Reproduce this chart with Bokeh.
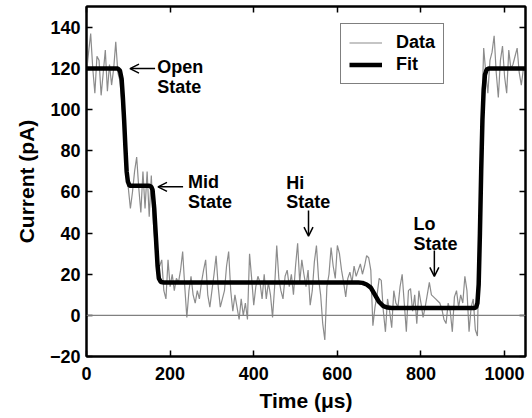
import numpy as np
from bokeh.plotting import figure
from bokeh.models import (ColumnDataSource, Span, Arrow, OpenHead, Legend, LegendItem,
                          LinearAxis, FixedTicker, Range1d, Label)
from bokeh.embed import file_html
from bokeh.resources import INLINE

# ---------------- data ----------------
time_us = list(range(0, 1051, 5))
current_pA = (
    # 0..75 open state
    [118, 128, 137, 120, 108, 126, 124, 107, 118, 129, 109, 122, 112, 120, 133, 118]
    # 80..100 transition
    + [114, 102, 90, 74, 62]
    # 105..170 mid state
    + [52, 60, 70, 77, 62, 50, 70, 52, 70, 48, 68, 45, 32, 20]
    # 175..670 hi state
    + [24, 27, 12, 8, 27, 14, 20, 12, 18, 16,
       22, 31, 14, -1, 12, 19, 10, 6, 12, 8,
       16, 22, 27, 10, 4, 12, 20, 29, 14, 4,
       8, 12, 24, 31, 12, 2, 10, 4, -2, 8,
       0, 6, -2, 30, 18, 5, 14, 19, 16, 8,
       20, 8, 16, 10, -1, 14, 34, 18, 12, 8,
       19, 22, 14, 20, 10, 24, 35, 16, 27, 20,
       14, 22, 5, 12, 26, 34, 18, 10, -4, -12,
       14, 20, 33, 24, 18, 34, 30, 22, 16, 9,
       18, 21, 16, 24, 19, 22, 25, 20, 24, 29]
    # 675..935 lo state
    + [28, 22, -5, 4, 10, 18, 17, 2, -8, 8,
       2, -6, 12, 6, 4, 14, 20, 6, -8, 12,
       13, 2, 10, -4, 12, 6, -1, 4, 10, 16,
       10, 9, 8, 7, 6, 3, -2, -4, 6, 2,
       -8, 9, 12, 4, 10, 6, 19, 12, -8, 4,
       8, -7, -10]
    # 940..1050 open state
    + [40, 95, 130, 118, 108, 124, 128, 136, 118, 106, 124, 131, 116, 108,
       129, 120, 122, 126, 130, 118, 112, 120, 118]
)

fit_time_us = [0, 75, 80, 84, 87, 90, 93, 96, 99, 103, 150, 155, 158, 162, 166, 170,
               173, 178, 185, 650, 660, 670, 680, 690, 700, 710, 720, 730,
               928, 932, 935, 938, 941, 944, 947, 950, 953, 957, 962, 1050]
fit_pA = [120, 120, 119, 115, 106, 95, 82, 70, 65, 63, 63, 62.5, 61, 52, 38, 24,
          18, 16.2, 16, 16, 15.8, 15, 13.5, 10, 6.5, 4.5, 3.8, 3.6,
          3.6, 4, 6, 15, 40, 70, 95, 110, 117, 119.5, 120, 120]

x_ticks = [0, 200, 400, 600, 800, 1000]
y_ticks = [-20, 0, 20, 40, 60, 80, 100, 120, 140]

FONT = "Liberation Sans"

p = figure(width=532, height=418, output_backend="svg", toolbar_location=None,
           x_range=Range1d(0, 1050), y_range=Range1d(-20, 150.2),
           min_border_left=86, min_border_right=7, min_border_top=6, min_border_bottom=62)
p.grid.visible = False
p.outline_line_color = "black"
p.outline_line_width = 2

src = ColumnDataSource(dict(t=time_us, i=current_pA))
fsrc = ColumnDataSource(dict(t=fit_time_us, i=fit_pA))

zero = Span(location=0, dimension="width", line_color="#808080", line_width=1.2)
p.add_layout(zero)

r_data = p.line("t", "i", source=src, line_color="#8c8c8c", line_width=1.2)
r_fit = p.line("t", "i", source=fsrc, line_color="black", line_width=4.5)

def style_axis(ax, labels=True):
    ax.axis_line_color = "black"
    ax.axis_line_width = 2
    ax.major_tick_in = 6
    ax.major_tick_out = 0
    ax.major_tick_line_width = 1.5
    ax.minor_tick_line_color = None
    ax.major_label_text_font = FONT
    ax.major_label_text_font_style = "bold"
    if labels:
        ax.major_label_text_color = "black"
        ax.major_label_text_font_size = "18px"
        ax.major_label_standoff = 6
    else:
        ax.major_label_text_color = None
        ax.major_label_text_font_size = "1px"
        ax.major_label_standoff = 0

p.xaxis.ticker = FixedTicker(ticks=x_ticks)
p.yaxis.ticker = FixedTicker(ticks=y_ticks)
style_axis(p.xaxis[0])
style_axis(p.yaxis[0])
p.xaxis.major_label_standoff = 10
p.xaxis.axis_label = "Time (\u03bcs)"
p.yaxis.axis_label = "Current (pA)"
for ax in (p.xaxis[0], p.yaxis[0]):
    ax.axis_label_text_font = FONT
    ax.axis_label_text_font_style = "bold"
    ax.axis_label_text_font_size = "21px"
    ax.axis_label_text_color = "black"
p.xaxis.axis_label_standoff = 6
p.yaxis.axis_label_standoff = 9

top_ax = LinearAxis(ticker=FixedTicker(ticks=x_ticks))
style_axis(top_ax, labels=False)
p.add_layout(top_ax, "above")
right_ax = LinearAxis(ticker=FixedTicker(ticks=y_ticks))
style_axis(right_ax, labels=False)
p.add_layout(right_ax, "right")

legend = Legend(items=[LegendItem(label="Data", renderers=[r_data]),
                       LegendItem(label="Fit", renderers=[r_fit])],
                location=(254, 272))
legend.label_text_font = FONT
legend.label_text_font_style = "bold"
legend.label_text_font_size = "18px"
legend.label_text_color = "black"
legend.border_line_color = "black"
legend.border_line_width = 1
legend.glyph_width = 33
legend.glyph_height = 17
legend.label_height = 17
legend.label_standoff = 14
legend.spacing = 1
legend.padding = 8
legend.margin = 0
legend.background_fill_alpha = 1
p.add_layout(legend)

def add_text(x, y, txt):
    p.add_layout(Label(x=x, y=y, text=txt, text_font=FONT, text_font_style="bold",
                       text_font_size="18px", text_color="black",
                       text_baseline="alphabetic", text_align="left"))

def add_arrow(x0, y0, x1, y1):
    p.add_layout(Arrow(end=OpenHead(size=9, line_width=1.5, line_color="black"),
                       x_start=x0, y_start=y0, x_end=x1, y_end=y1,
                       line_width=1.5, line_color="black"))

add_text(169, 121, "Open"); add_text(169, 111, "State")
add_arrow(164, 120, 104, 120)
add_text(243, 65, "Mid"); add_text(243, 55, "State")
add_arrow(231, 62.5, 171, 62.5)
add_text(478, 64.5, "Hi"); add_text(478, 55, "State")
add_arrow(531, 51, 531, 38.5)
add_text(782, 44.6, "Lo"); add_text(782, 34.9, "State")
add_arrow(832, 31.5, 832, 19)

open("out.html", "w").write(file_html(p, INLINE))
